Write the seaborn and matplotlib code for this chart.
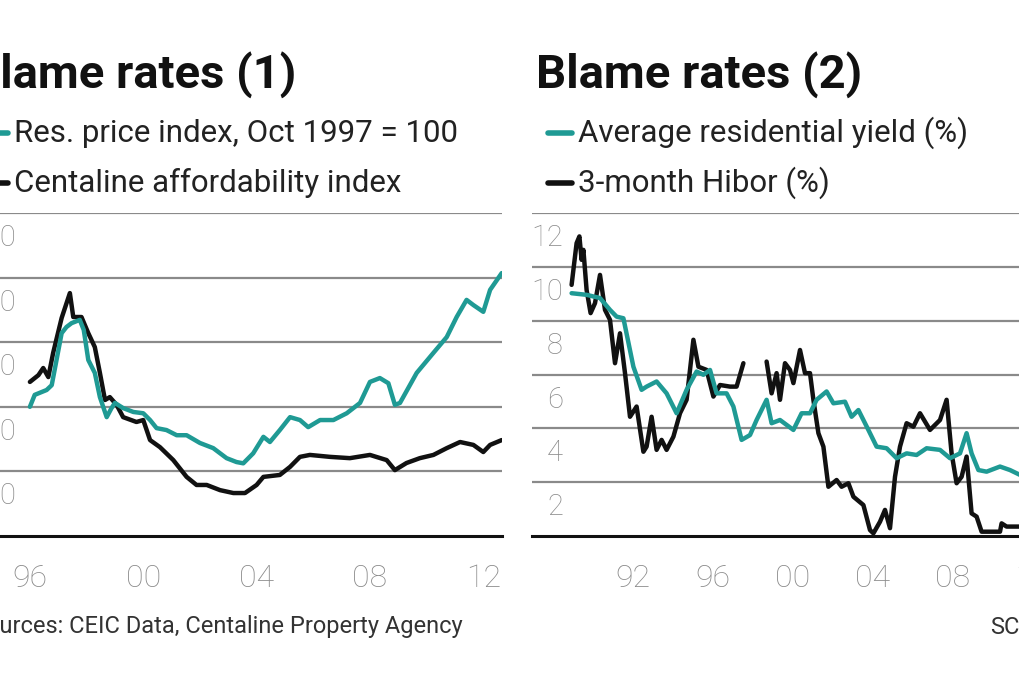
import numpy as np
import pandas as pd
import matplotlib
matplotlib.use("Agg")
import matplotlib.pyplot as plt
from matplotlib.lines import Line2D
import seaborn as sns

# --Daten: Chart 1 (Preisindex / Affordability)--
preis_jahr = [1996.0, 1996.17, 1996.59, 1996.77, 1997.12, 1997.29, 1997.47, 1997.76, 1997.9, 1998.06,
              1998.29, 1998.47, 1998.71, 1998.88, 1999.0, 1999.29, 1999.65, 2000.0, 2000.24, 2000.47,
              2000.82, 2001.18, 2001.53, 2002.0, 2002.47, 2002.94, 2003.29, 2003.53, 2003.88, 2004.24,
              2004.47, 2004.82, 2005.18, 2005.53, 2005.82, 2006.24, 2006.71, 2007.18, 2007.65, 2008.0,
              2008.35, 2008.65, 2008.88, 2009.06, 2009.65, 2010.24, 2010.71, 2011.06, 2011.41, 2011.65,
              2012.0, 2012.24, 2012.65]
preis_index = [80, 83.7, 85.2, 86.7, 102.8, 104.7, 105.9, 106.9, 103.8, 94.5,
               90.5, 83.0, 76.8, 79.6, 81.2, 79.6, 78.4, 78.0, 75.9, 73.4,
               72.8, 71.2, 71.2, 68.8, 67.2, 64.1, 62.9, 62.5, 65.6, 70.7,
               69.1, 72.8, 76.8, 75.9, 73.7, 75.9, 75.9, 78.0, 81.2, 87.7,
               88.9, 87.3, 80.6, 81.2, 90.5, 96.7, 101.6, 107.8, 113.1, 111.5,
               109.4, 116.2, 121.4]

afford_jahr = [1996.0, 1996.3, 1996.47, 1996.65, 1996.82, 1997.12, 1997.41, 1997.53, 1997.82, 1998.06,
               1998.29, 1998.47, 1998.65, 1998.82, 1999.06, 1999.29, 1999.76, 2000.0, 2000.24, 2000.59,
               2001.06, 2001.53, 2001.88, 2002.24, 2002.71, 2003.18, 2003.59, 2004.0, 2004.24, 2004.82,
               2005.18, 2005.53, 2005.88, 2006.59, 2007.29, 2008.0, 2008.59, 2008.88, 2009.29, 2009.76,
               2010.24, 2010.71, 2011.18, 2011.65, 2012.0, 2012.24, 2012.65]
afford_index = [87.7, 89.8, 92.0, 89.2, 96.7, 107.5, 115.2, 107.8, 107.8, 102.8,
                98.5, 90.5, 82.1, 83.0, 80.6, 76.8, 75.3, 75.9, 69.7, 67.5,
                63.5, 58.3, 55.8, 55.8, 54.2, 53.3, 53.3, 55.8, 58.3, 58.9,
                61.4, 64.5, 65.1, 64.5, 64.1, 65.1, 63.5, 60.4, 62.6, 64.1,
                65.1, 67.2, 69.1, 68.2, 66.0, 68.2, 69.7]

# --Daten: Chart 2 (Rendite / Hibor)--
rendite_jahr = [1988.93, 1989.68, 1990.35, 1990.85, 1991.18, 1991.52, 1992.02, 1992.43, 1992.68, 1993.18,
                1993.68, 1994.18, 1994.68, 1995.18, 1995.52, 1995.85, 1996.18, 1996.68, 1997.02, 1997.43,
                1997.85, 1998.18, 1998.68, 1998.93, 1999.35, 2000.02, 2000.43, 2000.85, 2001.18, 2001.68,
                2002.02, 2002.6, 2002.93, 2003.27, 2003.77, 2004.18, 2004.68, 2005.18, 2005.68, 2006.18,
                2006.68, 2007.35, 2007.85, 2008.35, 2008.68, 2008.93, 2009.27, 2009.68, 2010.35, 2010.85,
                2011.35, 2011.9]
rendite = [9.02, 8.96, 8.84, 8.40, 8.15, 8.09, 6.29, 5.43, 5.55, 5.74,
           5.30, 4.56, 5.43, 6.11, 5.99, 6.17, 5.30, 5.30, 4.81, 3.57,
           3.75, 4.31, 5.06, 4.19, 4.31, 3.94, 4.56, 4.56, 5.06, 5.37,
           4.93, 4.99, 4.43, 4.68, 3.94, 3.32, 3.26, 2.89, 3.07, 3.01,
           3.26, 3.20, 2.89, 3.07, 3.82, 3.07, 2.45, 2.39, 2.58, 2.45,
           2.27, 2.3]

hibor_jahr_a = [1988.93, 1989.18, 1989.32, 1989.43, 1989.52, 1989.68, 1989.88, 1990.1, 1990.35, 1990.6,
                1990.85, 1991.1, 1991.35, 1991.6, 1991.85, 1992.18, 1992.52, 1992.68, 1992.93, 1993.18,
                1993.43, 1993.68, 1994.02, 1994.35, 1994.68, 1994.85, 1995.02, 1995.27, 1995.68, 1996.02,
                1996.35, 1996.85, 1997.18, 1997.52]
hibor_a = [9.33, 10.88, 11.13, 10.26, 10.63, 9.14, 8.28, 8.65, 9.70, 8.40,
           8.03, 6.42, 7.53, 6.05, 4.43, 4.81, 3.13, 3.32, 4.43, 3.20,
           3.57, 3.20, 3.69, 4.56, 5.06, 6.17, 7.29, 6.29, 6.17, 5.18,
           5.61, 5.55, 5.55, 6.42]
hibor_jahr_b = [1998.68, 1998.93, 1999.18, 1999.35, 1999.6, 1999.85, 2000.02, 2000.35, 2000.6, 2000.85,
                2001.02, 2001.27, 2001.52, 2001.77, 2002.18, 2002.43, 2002.77, 2003.02, 2003.52, 2003.85,
                2004.02, 2004.35, 2004.6, 2004.85, 2005.1, 2005.35, 2005.68, 2006.02, 2006.35, 2006.85,
                2007.35, 2007.68, 2007.93, 2008.18, 2008.43, 2008.68, 2008.93, 2009.18, 2009.43, 2010.35,
                2010.43, 2010.68, 2011.35, 2011.9]
hibor_b = [6.48, 5.30, 6.05, 5.06, 6.42, 6.17, 5.68, 6.91, 6.05, 6.05,
           5.06, 3.82, 3.32, 1.83, 2.08, 1.83, 1.96, 1.46, 1.15, 0.22,
           0.10, 0.53, 0.97, 0.29, 2.20, 3.32, 4.19, 4.06, 4.56, 3.94,
           4.31, 5.06, 3.07, 1.96, 2.20, 2.95, 0.84, 0.72, 0.16, 0.16,
           0.47, 0.35, 0.35, 0.35]

ticks_1 = [1996, 2000, 2004, 2008, 2012]
ticks_1_labels = ["96", "00", "04", "08", "12"]
ticks_2 = [1992, 1996, 2000, 2004, 2008, 2012]
ticks_2_labels = ["92", "96", "00", "04", "08", "12"]
y_1 = [60, 80, 100, 120, 140]
y_2 = [2, 4, 6, 8, 10, 12]

# --Stil--
sns.set_style("white")
plt.rcParams['font.family'] = ['Roboto', 'DejaVu Sans']
teal = "#1f9a94"
schwarz = "#111111"
grau = "#8a8a8a"
W, H = 1020, 680

fig = plt.figure(figsize=(10.2, 6.8), dpi=100)


def px_axes(x0, y0, x1, y1):
    # Pixelkoordinaten (oben links) -> Figure-Koordinaten
    return fig.add_axes([x0 / W, 1 - y1 / H, (x1 - x0) / W, (y1 - y0) / H])


def style_axes(ax, ticks, labels, yvals, label_x):
    for s in ["top", "right", "left"]:
        ax.spines[s].set_visible(False)
    ax.spines["bottom"].set_color(schwarz)
    ax.spines["bottom"].set_linewidth(2.2)
    ax.set_yticks([])
    for v in yvals:
        ax.axhline(v, color=grau, linewidth=1.6, zorder=0)
        ax.annotate(str(v), xy=(label_x, v), xycoords=ax.get_yaxis_transform(),
                    xytext=(0, -25), textcoords="offset pixels", ha="right", va="center",
                    fontsize=21, color=grau, fontweight="light")
    ax.set_xticks(ticks)
    ax.set_xticklabels(labels, fontweight="light")
    ax.tick_params(axis="x", direction="inout", length=25, width=1.3, color=grau,
                   labelsize=23, labelcolor=grau, pad=7.5)
    ax.set_xlabel("")
    ax.set_ylabel("")


# Chart 1
ax1 = px_axes(-50, 213, 502, 536)
df1 = pd.DataFrame({"Jahr": afford_jahr, "Wert": afford_index})
df2 = pd.DataFrame({"Jahr": preis_jahr, "Wert": preis_index})
sns.lineplot(data=df1, x="Jahr", y="Wert", ax=ax1, color=schwarz, linewidth=3.2,
             sort=False, estimator=None)
sns.lineplot(data=df2, x="Jahr", y="Wert", ax=ax1, color=teal, linewidth=3.2,
             sort=False, estimator=None)
ax1.set_xlim(1993.18, 2012.66)
ax1.set_ylim(40, 140)
style_axes(ax1, ticks_1, ticks_1_labels, y_1, 66 / 552)

# Chart 2
ax2 = px_axes(532, 213, 1050, 536)
for jahr, wert in [(hibor_jahr_a, hibor_a), (hibor_jahr_b, hibor_b)]:
    sns.lineplot(x=jahr, y=wert, ax=ax2, color=schwarz, linewidth=3.2, sort=False, estimator=None)
sns.lineplot(x=rendite_jahr, y=rendite, ax=ax2, color=teal, linewidth=3.2, sort=False, estimator=None)
ax2.set_xlim(1986.95, 2012.85)
ax2.set_ylim(0, 12)
style_axes(ax2, ticks_2, ticks_2_labels, y_2, 31 / 518)

# --Texte--
def ftext(x, y, s, **kw):
    fig.text(x / W, 1 - y / H, s, **kw)


ftext(-30, 88, "Blame rates (1)", fontsize=34, fontweight="bold", va="baseline", color=schwarz)
ftext(536, 88, "Blame rates (2)", fontsize=34, fontweight="bold", va="baseline", color=schwarz)

legende = [(-20, 14, 133, teal, "Res. price index, Oct 1997 = 100"),
           (-20, 14, 183, schwarz, "Centaline affordability index"),
           (548, 578, 133, teal, "Average residential yield (%)"),
           (548, 578, 183, schwarz, "3-month Hibor (%)")]
for x0, xt, y, farbe, text in legende:
    fig.add_artist(Line2D([x0 / W, (xt - 6) / W], [1 - y / H, 1 - y / H], color=farbe, linewidth=4,
                          transform=fig.transFigure))
    ftext(xt, y, text, fontsize=22.5, va="center", color="#222222")

ftext(-28, 627, "Sources: CEIC Data, Centaline Property Agency", fontsize=17, va="center", color="#333333")
ftext(990, 627, "SCMP", fontsize=17, va="center", color="#333333")

fig.savefig("out.png", dpi=100)
